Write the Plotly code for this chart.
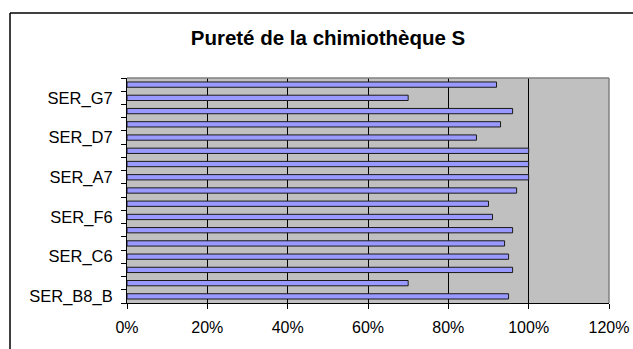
import plotly.graph_objects as go

# Purity per sample of library S (bottom to top)
samples = [
    "SER_B8_B", "SER_A6", "SER_B6", "SER_C6", "SER_D6", "SER_E6",
    "SER_F6", "SER_G6", "SER_H6", "SER_A7", "SER_B7", "SER_C7",
    "SER_D7", "SER_E7", "SER_F7", "SER_G7", "SER_H7",
]
purity = [0.95, 0.70, 0.96, 0.95, 0.94, 0.96,
          0.91, 0.90, 0.97, 1.00, 1.00, 1.00,
          0.87, 0.93, 0.96, 0.70, 0.92]
x_ticks = [0, 0.2, 0.4, 0.6, 0.8, 1.0, 1.2]

# only every third sample gets a label
shown_labels = [s if i % 3 == 0 else "" for i, s in enumerate(samples)]

W, H = 633, 349
L, R, T, B = 127, 24, 78, 46
pw, ph = W - L - R, H - T - B


def px_x(v):
    return (v - L) / pw


def px_y(v):
    return (H - B - v) / ph


fig = go.Figure(go.Bar(
    x=purity, y=samples, orientation="h",
    marker=dict(color="#9999FF", line=dict(color="#1a1a1a", width=1)),
    width=0.4,
))

font = "Liberation Sans, Arial, sans-serif"

fig.update_layout(
    width=W, height=H,
    margin=dict(l=L, r=R, t=T, b=B, autoexpand=False),
    paper_bgcolor="white",
    plot_bgcolor="#C0C0C0",
    showlegend=False,
    title=dict(
        text="<b>Pureté de la chimiothèque S</b>",
        x=328 / W, xanchor="center",
        y=1 - 38 / H, yanchor="middle",
        font=dict(family=font, size=20.5, color="black"),
    ),
    xaxis=dict(
        range=[0, 1.2], tickmode="array", tickvals=x_ticks,
        tickformat=".0%", automargin=False,
        showgrid=True, gridcolor="black", gridwidth=1,
        zeroline=False,
        showline=True, linecolor="black", linewidth=1,
        ticks="outside", ticklen=5, tickcolor="black",
        ticklabelstandoff=5,
        tickfont=dict(family=font, size=16, color="black"),
    ),
    yaxis=dict(
        type="category", range=[-0.5, len(samples) - 0.5],
        tickmode="array", tickvals=samples, ticktext=shown_labels,
        tickson="boundaries", automargin=False,
        showgrid=False, zeroline=False,
        showline=True, linecolor="black", linewidth=1,
        ticks="outside", ticklen=5, tickcolor="black",
        ticklabelstandoff=10,
        tickfont=dict(family=font, size=16.5, color="black"),
    ),
    shapes=[
        # plot area frame (top and right edges)
        dict(type="line", xref="paper", yref="paper", x0=0, x1=1, y0=1, y1=1,
             line=dict(color="#808080", width=1.5), layer="above"),
        dict(type="line", xref="paper", yref="paper", x0=1, x1=1, y0=0, y1=1,
             line=dict(color="#808080", width=1.5), layer="above"),
        # chart area frame: left and top edges
        dict(type="line", xref="paper", yref="paper",
             x0=px_x(10), x1=px_x(10), y0=px_y(13), y1=px_y(H),
             line=dict(color="black", width=1.5), layer="above"),
        dict(type="line", xref="paper", yref="paper",
             x0=px_x(10), x1=px_x(W), y0=px_y(13), y1=px_y(13),
             line=dict(color="black", width=1.5), layer="above"),
    ],
)

fig.write_html("out.html")
